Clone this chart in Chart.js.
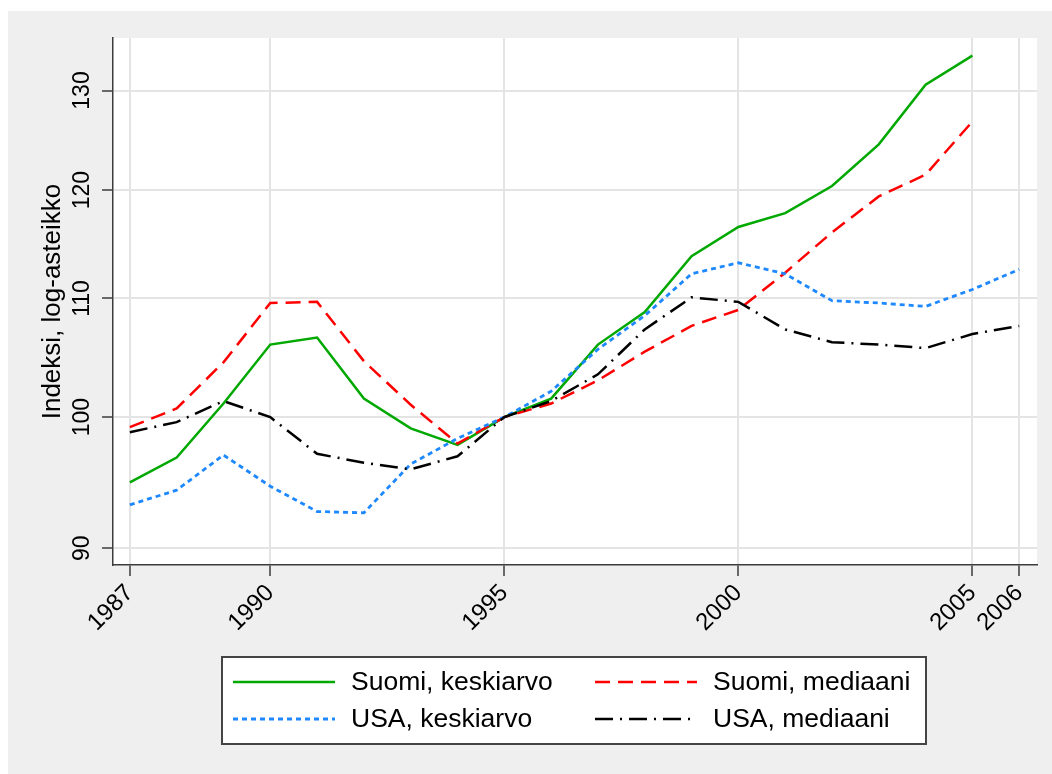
<!DOCTYPE html>
<html>
<head>
<meta charset="utf-8">
<script src="https://cdn.jsdelivr.net/npm/chart.js@4"></script>
<style>
  html, body { margin: 0; padding: 0; background: #fff; }
  canvas { display: block; }
</style>
</head>
<body>
<canvas id="mainCanvas" width="1052" height="774"></canvas>
<script>
// values (index, 1995 = 100)
const years = [1987, 1988, 1989, 1990, 1991, 1992, 1993, 1994, 1995, 1996,
               1997, 1998, 1999, 2000, 2001, 2002, 2003, 2004, 2005, 2006];
const suomiKeskiarvo = [94.9, 96.8, 101.1, 106.0, 106.6, 101.5, 99.1, 97.8, 100, 101.5,
                        106.0, 108.8, 113.8, 116.5, 117.8, 120.4, 124.5, 130.6, 133.7, null];
const suomiMediaani  = [99.2, 100.7, 104.5, 109.6, 109.7, 104.6, 101.0, 97.9, 100, 101.1,
                        103.0, 105.4, 107.6, 109.0, 112.3, 116.0, 119.4, 121.5, 126.8, null];
const usaKeskiarvo   = [93.2, 94.3, 97.0, 94.6, 92.7, 92.6, 96.3, 98.3, 100, 102.1,
                        105.6, 108.5, 112.2, 113.2, 112.2, 109.8, 109.6, 109.3, 110.8, 112.6];
const usaMediaani    = [98.8, 99.6, 101.3, 100.0, 97.1, 96.4, 95.9, 96.9, 100, 101.3,
                        103.5, 107.3, 110.1, 109.7, 107.3, 106.2, 106.0, 105.7, 106.9, 107.6];

const xTicks = [1987, 1990, 1995, 2000, 2005, 2006];
const yTicks = [90, 100, 110, 120, 130];

Chart.defaults.font.family = "'Liberation Sans', Arial, sans-serif";
Chart.defaults.color = "#000";

function points(values) {
  return years.map((yr, i) => ({x: yr, y: values[i]}));
}

/**
 * Grey graph region with a white plot region, as in Stata
 */
const backdrop = {
  id: "backdrop",
  beforeDraw(chart) {
    const {ctx, chartArea: a} = chart;
    ctx.save();
    ctx.fillStyle = "#ffffff";
    ctx.fillRect(0, 0, chart.width, chart.height);
    ctx.fillStyle = "#efefef";
    ctx.fillRect(8, 11, chart.width - 8, chart.height - 11);
    ctx.fillStyle = "#ffffff";
    ctx.fillRect(a.left, a.top, a.right - a.left, a.bottom - a.top);
    ctx.restore();
  }
};

/**
 * Boxed two-column legend under the axis
 */
const boxLegend = {
  id: "boxLegend",
  afterDraw(chart) {
    const ctx = chart.ctx;
    const cols = [233, 595];
    const rows = [682, 719];

    ctx.save();
    ctx.fillStyle = "#ffffff";
    ctx.fillRect(222, 657, 704, 87);
    ctx.strokeStyle = "#444444";
    ctx.lineWidth = 2;
    ctx.strokeRect(222, 657, 704, 87);

    chart.data.datasets.forEach((ds, i) => {
      const x = cols[i % 2];
      const y = rows[Math.floor(i / 2)];
      ctx.beginPath();
      ctx.setLineDash(ds.borderDash || []);
      ctx.strokeStyle = ds.borderColor;
      ctx.lineWidth = ds.borderWidth;
      ctx.moveTo(x, y);
      ctx.lineTo(x + 102, y);
      ctx.stroke();
      ctx.setLineDash([]);

      ctx.fillStyle = "#000000";
      ctx.font = "26.5px 'Liberation Sans', Arial, sans-serif";
      ctx.textAlign = "left";
      ctx.textBaseline = "middle";
      ctx.fillText(ds.label, x + 118, y + 1);
    });
    ctx.restore();
  }
};

const gridStyle = {
  color: "#e4e4e4",
  lineWidth: 2,
  tickColor: "#3c3c3c",
  tickWidth: 1.5,
  tickLength: 11,
};
const borderStyle = {color: "#3c3c3c", width: 1.5};

const ctx = document.getElementById("mainCanvas").getContext("2d");
const chart = new Chart(ctx, {
  type: "line",
  data: {
    datasets: [
      {label: "Suomi, keskiarvo", data: points(suomiKeskiarvo), borderColor: "#00a800", borderWidth: 2.5, order: 4},
      {label: "Suomi, mediaani", data: points(suomiMediaani), borderColor: "#ff0000", borderWidth: 2.5, borderDash: [15, 8], order: 3},
      {label: "USA, keskiarvo", data: points(usaKeskiarvo), borderColor: "#1e88ff", borderWidth: 2.8, borderDash: [5, 4], order: 2},
      {label: "USA, mediaani", data: points(usaMediaani), borderColor: "#000000", borderWidth: 2.5, borderDash: [18, 7, 2, 7], order: 1},
    ],
  },
  options: {
    responsive: false,
    animation: false,
    devicePixelRatio: 1,
    layout: {padding: {top: 38, right: 15, bottom: 0, left: 0}},
    elements: {
      point: {radius: 0, hoverRadius: 0},
      line: {tension: 0, fill: false, borderCapStyle: "butt"},
    },
    plugins: {
      legend: {display: false},
      tooltip: {enabled: false},
    },
    scales: {
      x: {
        type: "linear",
        min: 1986.64,
        max: 2006.38,
        afterBuildTicks(scale) {
          scale.ticks = xTicks.map(v => ({value: v}));
        },
        afterFit(scale) {
          scale.height = 209;
        },
        ticks: {
          autoSkip: false,
          minRotation: 45,
          maxRotation: 45,
          padding: 3,
          font: {size: 24},
          callback: v => String(v),
        },
        grid: gridStyle,
        border: borderStyle,
      },
      y: {
        type: "logarithmic",
        min: 88.8,
        max: 135.6,
        afterBuildTicks(scale) {
          scale.ticks = yTicks.map(v => ({value: v}));
        },
        afterFit(scale) {
          scale.width = 113;
        },
        ticks: {
          minRotation: 90,
          maxRotation: 90,
          crossAlign: "center",
          padding: 0,
          font: {size: 23},
          callback: v => String(v),
        },
        grid: gridStyle,
        border: borderStyle,
        title: {
          display: true,
          text: "Indeksi, log-asteikko",
          font: {size: 26},
          padding: {top: 37, bottom: 0},
        },
      },
    },
  },
  plugins: [backdrop, boxLegend],
});
</script>
</body>
</html>
